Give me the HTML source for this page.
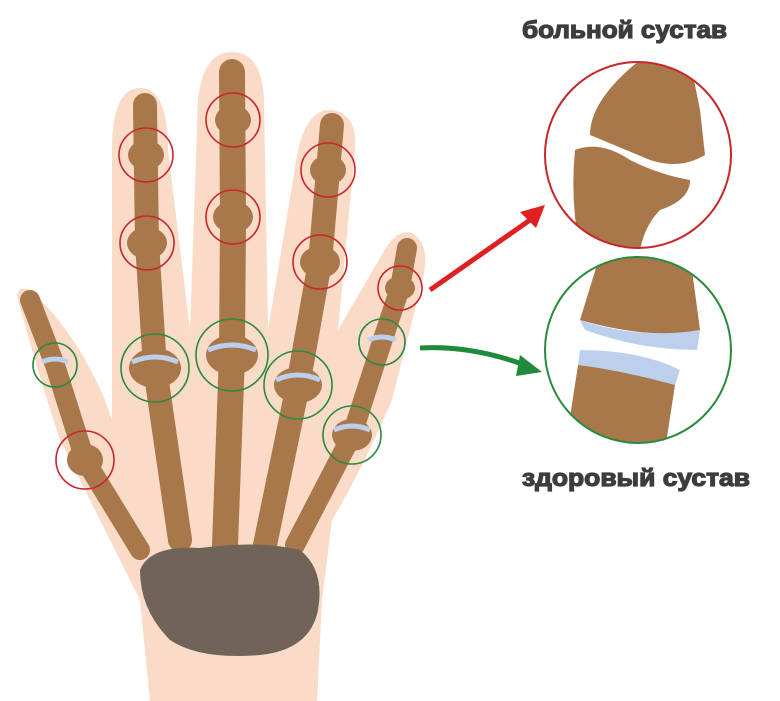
<!DOCTYPE html>
<html><head><meta charset="utf-8"><style>
html,body{margin:0;padding:0;background:#fff;width:780px;height:701px;overflow:hidden}
svg{display:block}
</style></head><body>
<svg width="780" height="701" viewBox="0 0 780 701" xmlns="http://www.w3.org/2000/svg">
<rect width="780" height="701" fill="#fff"/>
<!-- hand silhouette -->
<path fill="#fadbc8" d="M150 701 L140 600 Q120 560 100 520 L60 440 Q40 380 18 300 Q15 285 30 290 Q75 330 105 400 L112 420 L112 150 Q112 88 140 88 Q168 88 168 150 L190 330 L198 100 Q203 52 232 52 Q262 52 264 100 L268 330 L298 150 Q308 108 332 110 Q358 114 355 150 L338 330 L380 258 Q395 228 412 233 Q432 245 422 282 L392 400 Q362 470 332 520 L322 600 L317 701 Z"/>
<!-- bones -->
<g stroke="#a9784a" stroke-linecap="round" fill="none">
<path d="M30 300 L55 365 L85 460 L140 550" stroke-width="20"/>
<path d="M145 105 L147 243 L155 368 L180 540" stroke-width="24"/>
<path d="M232 72 L233 217 L232 355 L225 545" stroke-width="26"/>
<path d="M332 125 L320 262 L298 385 L265 545" stroke-width="24"/>
<path d="M407 248 L400 288 L382 342 L352 435 L295 545" stroke-width="20"/>
</g>
<g fill="#a9784a">
<ellipse cx="155" cy="368" rx="26" ry="20"/><ellipse cx="232" cy="355" rx="26" ry="20"/>
<ellipse cx="298" cy="385" rx="24" ry="18"/><ellipse cx="352" cy="435" rx="20" ry="16"/>
<ellipse cx="146" cy="155" rx="18" ry="15"/><ellipse cx="147" cy="243" rx="20" ry="16"/>
<ellipse cx="233" cy="120" rx="18" ry="15"/><ellipse cx="233" cy="217" rx="20" ry="16"/>
<ellipse cx="328" cy="170" rx="18" ry="15"/><ellipse cx="320" cy="262" rx="20" ry="16"/>
<ellipse cx="400" cy="288" rx="15" ry="12"/><ellipse cx="85" cy="460" rx="18" ry="16"/>
</g>
<g stroke="#bcd0ee" stroke-width="5" fill="none">
<path d="M132 362 Q155 352 178 362"/><path d="M208 350 Q232 340 256 350"/>
<path d="M276 380 Q298 370 320 380"/><path d="M334 430 Q352 422 370 430"/>
<path d="M368 340 Q382 334 396 340"/><path d="M42 362 Q55 356 68 362"/>
</g>
<!-- carpals -->
<path fill="#6f6457" d="M140 570 Q150 545 200 548 Q260 540 300 550 Q325 570 318 610 Q310 650 260 655 Q200 660 170 640 Q140 610 140 570Z"/>
<!-- small circles -->
<g fill="none" stroke-width="1.6">
<g stroke="#c8262b">
<circle cx="146" cy="155" r="27"/><circle cx="147" cy="243" r="27"/>
<circle cx="233" cy="120" r="27"/><circle cx="233" cy="217" r="27"/>
<circle cx="328" cy="170" r="27"/><circle cx="320" cy="262" r="27"/>
<circle cx="400" cy="288" r="22"/><circle cx="85" cy="460" r="29"/>
</g>
<g stroke="#2a8a3e">
<circle cx="55" cy="365" r="22"/><circle cx="155" cy="368" r="34"/>
<circle cx="232" cy="355" r="36"/><circle cx="298" cy="385" r="34"/>
<circle cx="382" cy="342" r="23"/><circle cx="352" cy="435" r="29"/>
</g>
</g>
<!-- arrows -->
<path d="M430 290 Q480 255 530 220" stroke="#e0201e" stroke-width="5" fill="none"/>
<polygon points="545,205 520,212 536,228" fill="#e0201e"/>
<path d="M420 348 Q470 345 525 365" stroke="#1f8a3a" stroke-width="5" fill="none"/>
<polygon points="542,372 520,355 516,376" fill="#1f8a3a"/>
<!-- big circles -->
<clipPath id="c1"><circle cx="638" cy="155" r="93"/></clipPath>
<clipPath id="c2"><circle cx="638" cy="350" r="93"/></clipPath>
<g clip-path="url(#c1)" fill="#a9784a">
<path d="M640 60 L690 60 L700 110 L705 155 Q680 170 650 160 L590 135 Q590 100 640 60Z"/>
<path d="M575 150 Q600 140 630 160 Q660 175 690 180 Q690 200 660 210 Q645 225 640 250 L580 250 Q570 200 575 150Z"/>
</g>
<g clip-path="url(#c2)">
<path fill="#a9784a" d="M600 255 L690 255 L700 330 Q650 340 580 320 Z"/>
<path fill="#bcd0ee" d="M580 320 Q640 340 700 330 L697 350 Q640 350 585 330Z"/>
<path fill="#bcd0ee" d="M580 350 Q640 350 680 370 L675 385 Q620 370 578 365Z"/>
<path fill="#a9784a" d="M578 365 Q620 370 675 385 L665 450 L565 450 Z"/>
</g>
<circle cx="638" cy="155" r="93" fill="none" stroke="#c8262b" stroke-width="2"/>
<circle cx="638" cy="350" r="93" fill="none" stroke="#2a8a3e" stroke-width="2"/>
<text x="522" y="38" font-family="Liberation Sans, sans-serif" font-weight="bold" font-size="24" fill="#3d3d3d" stroke="#3d3d3d" stroke-width="1.2" textLength="205" lengthAdjust="spacingAndGlyphs">больной сустав</text>
<text x="522" y="486" font-family="Liberation Sans, sans-serif" font-weight="bold" font-size="24" fill="#3d3d3d" stroke="#3d3d3d" stroke-width="1.2" textLength="228" lengthAdjust="spacingAndGlyphs">здоровый сустав</text>
</svg>
</body></html>
